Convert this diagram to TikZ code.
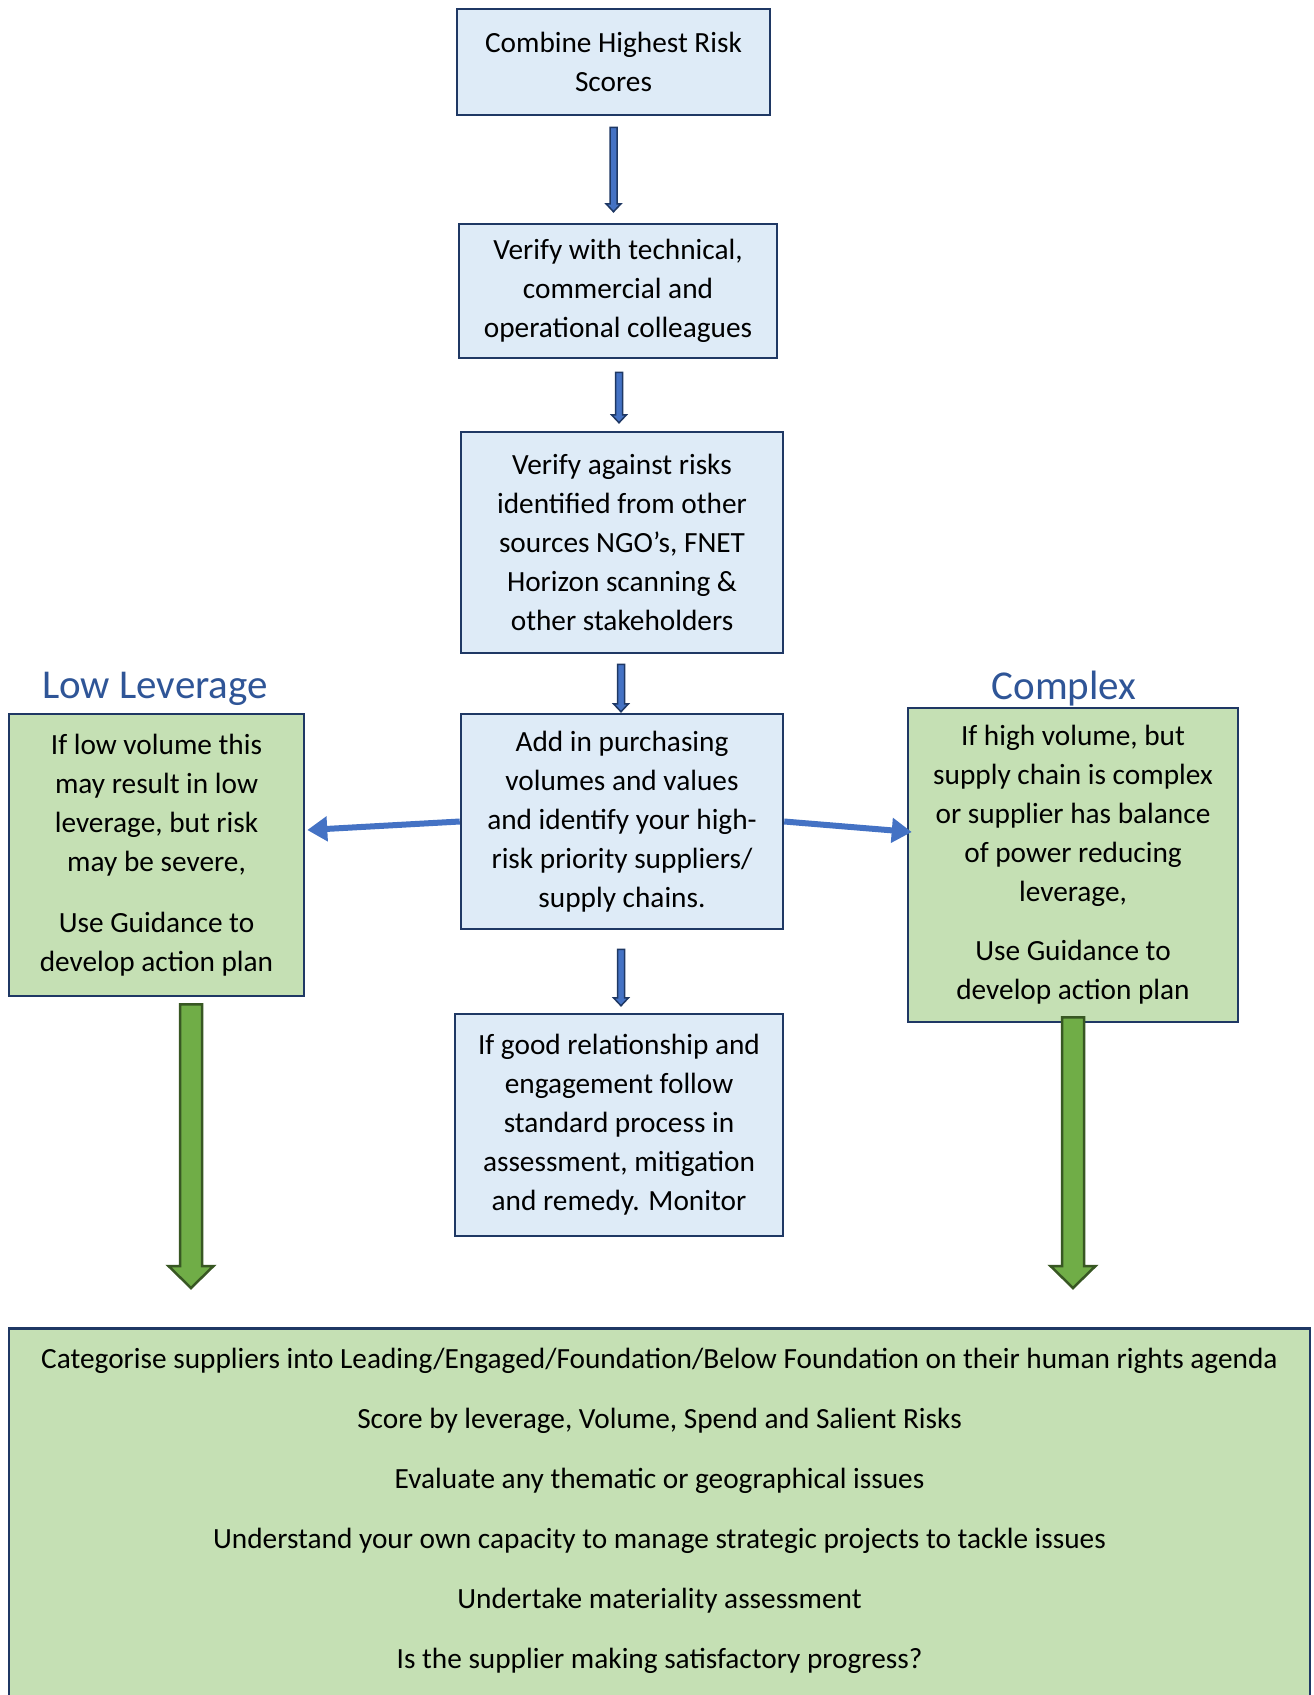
\documentclass[tikz,border=0pt]{standalone}
\usepackage{fontspec}
\setmainfont{Carlito}
\usetikzlibrary{calc,arrows.meta}
\definecolor{navyline}{HTML}{1F3864}
\definecolor{paleblue}{HTML}{DEEBF7}
\definecolor{palegreen}{HTML}{C5E0B4}
\definecolor{headblue}{HTML}{2F5597}
\definecolor{midblue}{HTML}{4472C4}
\definecolor{leafgreen}{HTML}{70AD47}
\definecolor{darkgreen}{HTML}{385723}
\tikzset{
every node/.style=
    {font=\fontsize{29.3}{39}\selectfont,
    align=center
    },
bluebox/.style=
    {draw=navyline,
    fill=paleblue,
    line width=2.5pt,
    inner sep=0pt
    },
greenbox/.style=
    {draw=navyline,
    fill=palegreen,
    line width=2.5pt,
    inner sep=0pt
    },
headline/.style=
    {text=headblue,
    font=\fontsize{41}{48}\selectfont
    },
sidearrow/.style=
    {draw=midblue,
    line width=6pt,
    -{Triangle[length=20pt,width=24pt]}
    },
thinblock/.style={draw=navyline,fill=midblue,line width=1.5pt},
fatblock/.style={draw=darkgreen,fill=leafgreen,line width=2.5pt}}
% style, from, to, half shaft, half head, head length
\newcommand\blockarrow[6]{%
  \draw[#1] let \p1=(#2), \p2=(#3) in
    (\x1-#4,\y1) -- (\x1+#4,\y1) -- (\x1+#4,\y2+#6) -- (\x1+#5,\y2+#6)
    -- (\x1,\y2) -- (\x1-#5,\y2+#6) -- (\x1-#4,\y2+#6) -- cycle;}

\begin{document}
\begin{tikzpicture}[x=1pt,y=-1pt]
\useasboundingbox (0,0) rectangle (1314,1695);
\fill[white] (0,0) rectangle (1314,1695);

\node[bluebox,minimum width=313,minimum height=106] (combine) at (613.5,62)
  {Combine Highest Risk\\Scores};
\node[bluebox,minimum width=318,minimum height=134] (verify) at (618,291)
  {Verify with technical,\\commercial and\\operational colleagues};
\node[bluebox,minimum width=322,minimum height=221] (sources) at (622,542.5)
  {Verify against risks\\identified from other\\sources NGO’s, FNET\\Horizon scanning \&\\other stakeholders};
\node[bluebox,minimum width=322,minimum height=215] (purchase) at (622,821.5)
  {Add in purchasing\\volumes and values\\and identify your high-\\risk priority suppliers/\\supply chains.};
\node[bluebox,minimum width=328,minimum height=222] (standard) at (619,1125)
  {If good relationship and\\engagement follow\\standard process in\\assessment, mitigation\\and remedy. Monitor};

\node[headline] (lowtitle) at (155,689) {Low Leverage};
\node[greenbox,minimum width=295,minimum height=282] (lowlev) at (156.5,855)
  {If low volume this\\may result in low\\leverage, but risk\\may be severe,\\[22pt]Use Guidance to\\develop action plan};
\node[headline] (complextitle) at (1064,689) {Complex};
\node[greenbox,minimum width=330,minimum height=314] (complex) at (1073,865)
  {If high volume, but\\supply chain is complex\\or supplier has balance\\of power reducing\\leverage,\\[20pt]Use Guidance to\\develop action plan};

\node[greenbox,anchor=north,minimum width=1301,minimum height=432] (categorise) at (659.5,1327)
  {Categorise suppliers into Leading/Engaged/Foundation/Below Foundation on their human rights agenda\\[21pt]
   Score by leverage, Volume, Spend and Salient Risks\\[21pt]
   Evaluate any thematic or geographical issues\\[21pt]
   Understand your own capacity to manage strategic projects to tackle issues\\[21pt]
   Undertake materiality assessment\\[21pt]
   Is the supplier making satisfactory progress?\\[21pt]
   \strut};

\coordinate (a1s) at ($(combine.south)+(0,11)$);
\coordinate (a1e) at ($(verify.north)+(0,-11)$);
\coordinate (a2s) at ($(verify.south)+(1,13)$);
\coordinate (a2e) at ($(sources.north)+(1,-8)$);
\coordinate (a3s) at ($(sources.south)+(-1,10)$);
\coordinate (a3e) at ($(purchase.north)+(-1,-1)$);
\coordinate (a4s) at ($(purchase.south)+(-1,19)$);
\coordinate (a4e) at ($(standard.north)+(2,-7)$);
\blockarrow{thinblock}{a1s}{a1e}{3.5pt}{7.5pt}{8pt}
\blockarrow{thinblock}{a2s}{a2e}{3.5pt}{7.5pt}{8pt}
\blockarrow{thinblock}{a3s}{a3e}{3.5pt}{7.5pt}{8pt}
\blockarrow{thinblock}{a4s}{a4e}{3.5pt}{7.5pt}{8pt}

\draw[sidearrow] (purchase.west) -- ($(lowlev.east)+(2,-25)$);
\draw[sidearrow] (purchase.east) -- ($(complex.west)+(5,-33)$);

\coordinate (gls) at ($(lowlev.south)+(34.5,7)$);
\coordinate (gle) at ($(gls |- categorise.north)+(0,-39)$);
\coordinate (grs) at ($(complex.south)+(0,-6)$);
\coordinate (gre) at ($(grs |- categorise.north)+(0,-39)$);
\blockarrow{fatblock}{gls}{gle}{11pt}{22.5pt}{22pt}
\blockarrow{fatblock}{grs}{gre}{11pt}{22.5pt}{22pt}
\end{tikzpicture}
\end{document}
